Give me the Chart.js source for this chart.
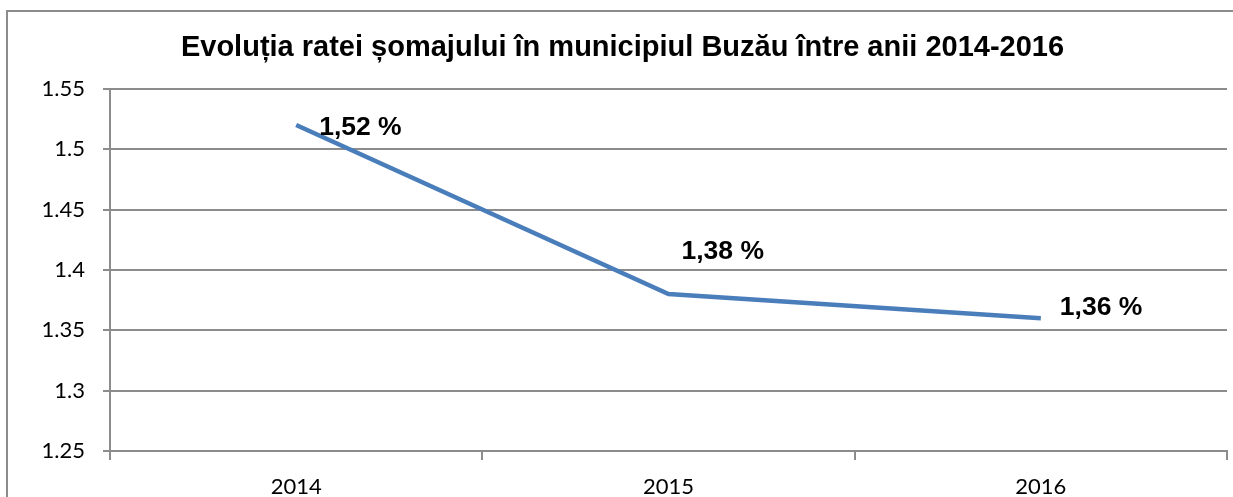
<!DOCTYPE html>
<html lang="ro">
<head>
  <meta charset="UTF-8">
  <title>Evoluția ratei șomajului</title>
  <style>
    html, body { margin: 0; padding: 0; background: #fff; overflow: hidden; }
    #wrap { position: relative; width: 1233px; height: 497px; }
    #frame { position: absolute; left: 6px; top: 10px; width: 1400px; height: 700px; border: 2px solid #8c8c8c; box-sizing: border-box; }
    canvas { position: absolute; left: 0; top: 0; }
  </style>
</head>
<body>
  <div id="wrap">
    <div id="frame"></div>
    <canvas id="grafic" width="1233" height="497"></canvas>
  </div>
  <script src="https://cdn.jsdelivr.net/npm/chart.js"></script>
  <script>
    // date
    const ani = ['2014', '2015', '2016'];
    const rata = [1.52, 1.38, 1.36];
    const etichete = ['1,52 %', '1,38 %', '1,36 %'];
    const yTicks = ['1.25', '1.3', '1.35', '1.4', '1.45', '1.5', '1.55'];
    const titlu = 'Evoluția ratei șomajului în municipiul Buzău între anii 2014-2016';

    // poziția etichetelor față de punct (dx, dy)
    const offsets = [[23, 3], [13, -42], [19, -11]];

    const eticheteDate = {
      id: 'eticheteDate',
      afterDatasetsDraw(chart) {
        const ctx = chart.ctx;
        const meta = chart.getDatasetMeta(0);
        ctx.save();
        ctx.font = 'bold 26.5px "Liberation Sans", Arial, sans-serif';
        ctx.fillStyle = '#000';
        ctx.textAlign = 'left';
        ctx.textBaseline = 'middle';
        meta.data.forEach((p, i) => {
          ctx.fillText(etichete[i], p.x + offsets[i][0], p.y + offsets[i][1]);
        });
        ctx.restore();
      }
    };

    new Chart(document.getElementById('grafic'), {
      type: 'line',
      data: {
        labels: ani,
        datasets: [{
          data: rata,
          borderColor: '#4a7ebb',
          borderWidth: 4.5,
          pointRadius: 0,
          tension: 0,
          fill: false
        }]
      },
      options: {
        responsive: false,
        animation: false,
        layout: { padding: { left: 18, right: 6, top: 0, bottom: 0 } },
        plugins: {
          legend: { display: false },
          tooltip: { enabled: false },
          title: {
            display: true,
            text: titlu,
            color: '#000',
            font: { family: '"Liberation Sans", Arial, sans-serif', size: 29, weight: 'bold' },
            padding: { top: 31, bottom: 23 }
          }
        },
        scales: {
          x: {
            offset: true,
            grid: { offset: true, drawOnChartArea: false, drawTicks: true, tickLength: 9, color: '#8c8c8c', lineWidth: 2 },
            border: { color: '#8c8c8c', width: 2 },
            ticks: { color: '#000', padding: 14, font: { family: 'Lato, "Open Sans", sans-serif', size: 22 } },
            afterFit(s) { s.height = 46; }
          },
          y: {
            min: 1.25,
            max: 1.55,
            ticks: {
              stepSize: 0.05,
              color: '#000',
              padding: 18,
              font: { family: 'Lato, "Open Sans", sans-serif', size: 22 },
              callback: (v, i) => yTicks[i]
            },
            grid: { color: '#8c8c8c', lineWidth: 2, tickLength: 7 },
            border: { color: '#8c8c8c', width: 2 },
            afterFit(s) { s.width = 92; }
          }
        }
      },
      plugins: [eticheteDate]
    });
  </script>
</body>
</html>
